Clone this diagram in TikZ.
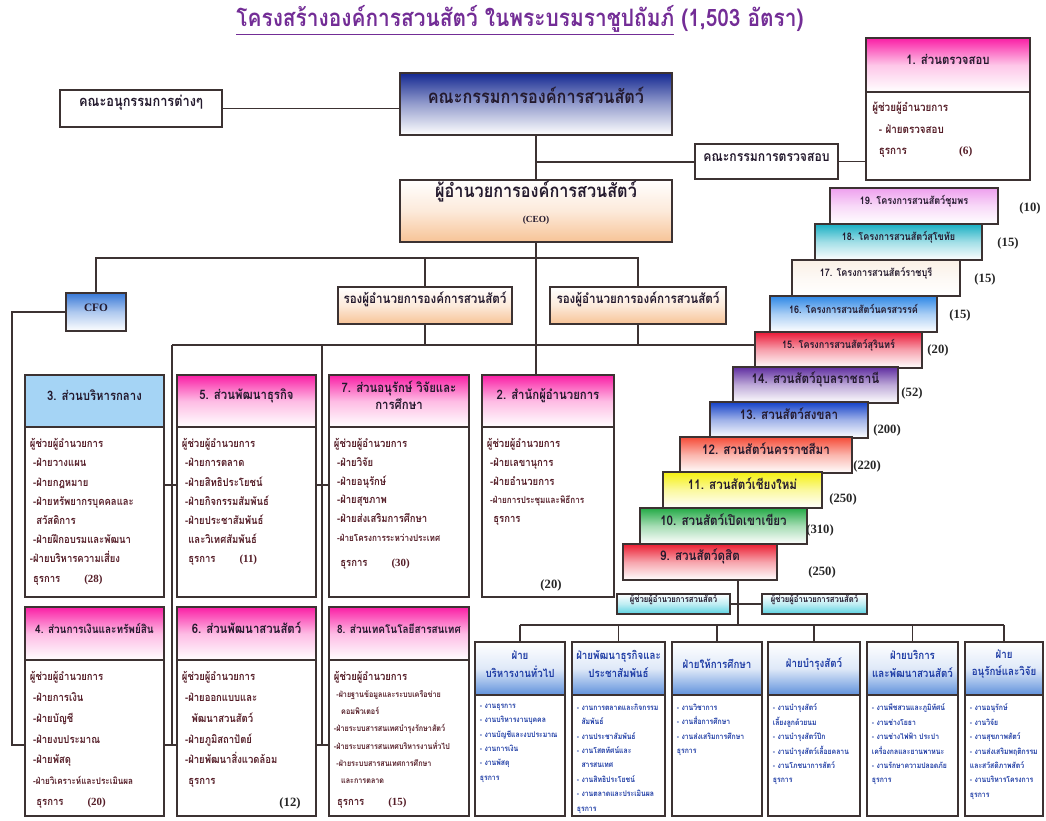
\documentclass[tikz,border=0pt]{standalone}
\usepackage{fontspec}
\setmainfont{Liberation Serif}
\newfontfamily\thaifont[Script=Thai, FakeStretch=0.87]{Loma}
\usepackage{tikz}
\usetikzlibrary{positioning,fit}

\definecolor{edge}{RGB}{60,50,50}
\definecolor{ink}{RGB}{35,25,45}
\definecolor{maroon}{RGB}{85,30,40}
\definecolor{pinkhd}{RGB}{250,30,165}
\definecolor{navyhd}{RGB}{20,40,145}
\definecolor{peach}{RGB}{247,195,150}
\definecolor{skyhd}{RGB}{165,212,245}
\definecolor{cfohd}{RGB}{55,120,215}
\definecolor{unithd}{RGB}{95,145,220}
\definecolor{unittext}{RGB}{30,60,165}
\definecolor{aqua}{RGB}{90,210,225}
\definecolor{titlepurple}{RGB}{115,45,150}
\definecolor{c19}{RGB}{238,160,238}
\definecolor{c18}{RGB}{25,175,195}
\definecolor{c17}{RGB}{250,240,230}
\definecolor{c16}{RGB}{45,135,230}
\definecolor{c15}{RGB}{235,25,55}
\definecolor{c14}{RGB}{95,45,160}
\definecolor{c13}{RGB}{20,65,200}
\definecolor{c12}{RGB}{245,75,55}
\definecolor{c11}{RGB}{245,240,15}
\definecolor{c10}{RGB}{35,170,70}
\definecolor{c9}{RGB}{235,30,50}

\begin{document}
\begin{tikzpicture}[x=0.75pt, y=-0.75pt,
	box/.style={draw=edge, line width=1pt, inner sep=0pt, align=center, text=ink, font=\thaifont\bfseries\fontsize{9.8}{13}\selectfont},
	plain/.style={box, fill=white},
	lines/.style={anchor=north west, align=left, inner sep=0pt, text=maroon},
	link/.style={draw=edge, line width=1pt},
	count/.style={font=\rmfamily\bfseries\fontsize{9.5}{11}\selectfont, text=black!85}]

\useasboundingbox (0,0) rectangle (1046,821);

% ---- title ----
\node[text=titlepurple, font=\thaifont\bfseries\fontsize{18}{21}\selectfont] (title) at (520,20) {\underline{โครงสร้างองค์การสวนสัตว์ ในพระบรมราชูปถัมภ์}\ (1,503 อัตรา)};

% ---- board, CEO, deputies ----
\node[plain, font=\thaifont\bfseries\fontsize{11}{13}\selectfont, fit={(60,90) (222,127)}] (subcom) {คณะอนุกรรมการต่างๆ};
\node[box, top color=navyhd, bottom color=white, middle color=navyhd!45, font=\thaifont\bfseries\fontsize{14}{17}\selectfont, fit={(400,73) (672,135)}] (board) {คณะกรรมการองค์การสวนสัตว์};
\node[plain, font=\thaifont\bfseries\fontsize{10.5}{12}\selectfont, fit={(695,144) (838,179)}] (auditcom) {คณะกรรมการตรวจสอบ};
\node[box, top color=white, bottom color=peach, middle color=peach!35, font=\thaifont\bfseries\fontsize{14}{17}\selectfont, fit={(400,180) (672,242)}] (ceo) {ผู้อำนวยการองค์การสวนสัตว์\\[2pt]{\rmfamily\fontsize{7}{8}\selectfont (CEO)}};
\node[box, top color=cfohd, bottom color=white, middle color=cfohd!40, font=\rmfamily\bfseries\fontsize{8.5}{10}\selectfont, fit={(66,293) (126,331)}] (cfo) {CFO};
\foreach \did/\xa/\xb in {1/338/512, 2/550/726}
	\node[box, top color=white, bottom color=peach, middle color=peach!35, font=\thaifont\bfseries\fontsize{10}{12}\selectfont, fit={(\xa,287) (\xb,324)}] (dep\did) {รองผู้อำนวยการองค์การสวนสัตว์};

% ---- 1. audit ----
\node[box, top color=pinkhd, bottom color=white, middle color=pinkhd!25, fit={(866,38) (1030,92)}] (dh1) {1. ส่วนตรวจสอบ};
\node[plain, fit={(866,92) (1030,180)}] (db1) {};
\node[lines, font=\thaifont\bfseries\fontsize{8.5}{16}\selectfont] (dt1) at ([xshift=5pt, yshift=-8pt]db1.north west) {ผู้ช่วยผู้อำนวยการ\\~~- ฝ่ายตรวจสอบ\\~~ธุรการ\hspace{4.6em}{\rmfamily (6)}};

% ---- divisions, upper row ----
\foreach \id/\xa/\xb/\tc/\bc/\hd/\bt/\ls in {
	3/25/164/skyhd/skyhd/{3. ส่วนบริหารกลาง}/{ผู้ช่วยผู้อำนวยการ\\~-ฝ่ายวางแผน\\~-ฝ่ายกฎหมาย\\~-ฝ่ายทรัพยากรบุคคลและ\\~~สวัสดิการ\\~-ฝ่ายฝึกอบรมและพัฒนา\\-ฝ่ายบริหารความเสี่ยง\\~ธุรการ\hspace{2.2em}{\rmfamily(28)}}/14.4,
	5/177/316/pinkhd/white/{5. ส่วนพัฒนาธุรกิจ}/{ผู้ช่วยผู้อำนวยการ\\~-ฝ่ายการตลาด\\~-ฝ่ายสิทธิประโยชน์\\~-ฝ่ายกิจกรรมสัมพันธ์\\~-ฝ่ายประชาสัมพันธ์\\~~และวิเทศสัมพันธ์\\~~ธุรการ\hspace{2.2em}{\rmfamily(11)}}/14.4,
	7/329/469/pinkhd/white/{7. ส่วนอนุรักษ์ วิจัยและ\\การศึกษา}/{ผู้ช่วยผู้อำนวยการ\\~-ฝ่ายวิจัย\\~-ฝ่ายอนุรักษ์\\~-ฝ่ายสุขภาพ\\~-ฝ่ายส่งเสริมการศึกษา\\~{\scriptsize -ฝ่ายโครงการระหว่างประเทศ}\\[5pt]~~ธุรการ\hspace{2.2em}{\rmfamily(30)}}/14,
	2/482/614/pinkhd/white/{2. สำนักผู้อำนวยการ}/{ผู้ช่วยผู้อำนวยการ\\~-ฝ่ายเลขานุการ\\~-ฝ่ายอำนวยการ\\~{\scriptsize -ฝ่ายการประชุมและพิธีการ}\\~~ธุรการ}/14}
{
	\node[box, top color=\tc, bottom color=\bc, middle color=\tc!30!\bc, fit={(\xa,375) (\xb,427)}] (dh\id) {\hd};
	\node[plain, fit={(\xa,427) (\xb,597)}] (db\id) {};
	\node[lines, font=\thaifont\bfseries\fontsize{8.2}{\ls}\selectfont] (dt\id) at ([xshift=4pt, yshift=-9pt]db\id.north west) {\bt};
}

% ---- divisions, lower row ----
\foreach \id/\xa/\xb/\hs/\hd/\bt/\ls in {
	4/25/164/8.6/{4. ส่วนการเงินและทรัพย์สิน}/{ผู้ช่วยผู้อำนวยการ\\~-ฝ่ายการเงิน\\~-ฝ่ายบัญชี\\~-ฝ่ายงบประมาณ\\~-ฝ่ายพัสดุ\\~{\scriptsize -ฝ่ายวิเคราะห์และประเมินผล}\\~~ธุรการ\hspace{2.2em}{\rmfamily(20)}}/15.6,
	6/177/316/9.8/{6. ส่วนพัฒนาสวนสัตว์}/{ผู้ช่วยผู้อำนวยการ\\~-ฝ่ายออกแบบและ\\~~~พัฒนาสวนสัตว์\\~-ฝ่ายภูมิสถาปัตย์\\~-ฝ่ายพัฒนาสิ่งแวดล้อม\\~~ธุรการ}/15.6,
	8/329/469/8.6/{8. ส่วนเทคโนโลยีสารสนเทศ}/{ผู้ช่วยผู้อำนวยการ\\{\fontsize{6.2}{7}\selectfont ~-ฝ่ายฐานข้อมูลและระบบเครือข่าย}\\{\fontsize{6.2}{7}\selectfont ~~~คอมพิวเตอร์}\\{\fontsize{6.2}{7}\selectfont -ฝ่ายระบบสารสนเทศบำรุงรักษาสัตว์}\\{\fontsize{6.2}{7}\selectfont -ฝ่ายระบบสารสนเทศบริหารงานทั่วไป}\\{\fontsize{6.2}{7}\selectfont ~-ฝ่ายระบบสารสนเทศการศึกษา}\\{\fontsize{6.2}{7}\selectfont ~~~และการตลาด}\\[4pt]~ธุรการ\hspace{2.2em}{\rmfamily(15)}}/12.8}
{
	\node[box, top color=pinkhd, bottom color=white, middle color=pinkhd!30, font=\thaifont\bfseries\fontsize{\hs}{13}\selectfont, fit={(\xa,607) (\xb,660)}] (dh\id) {\hd};
	\node[plain, fit={(\xa,660) (\xb,816)}] (db\id) {};
	\node[lines, font=\thaifont\bfseries\fontsize{8.2}{\ls}\selectfont] (dt\id) at ([xshift=4pt, yshift=-9pt]db\id.north west) {\bt};
}
\node[count] (c2) at (551,585) {(20)};
\node[count] (c6) at (290,803) {(12)};

% ---- projects and zoos ----
\foreach \pid/\xa/\xb/\ya/\col/\txt/\cnt/\cx/\cy in {
	19/830/998/188/c19/{โครงการสวนสัตว์ชุมพร}/10/1030/208,
	18/815/982/224/c18/{โครงการสวนสัตว์สุโขทัย}/15/1008/243,
	17/792/960/260/c17/{โครงการสวนสัตว์ราชบุรี}/15/985/279,
	16/770/937/296/c16/{โครงการสวนสัตว์นครสวรรค์}/15/960/315,
	15/755/922/332/c15/{โครงการสวนสัตว์สุรินทร์}/20/938/350}
{
	\node[box, top color=\col, bottom color=white, middle color=\col!40, font=\thaifont\bfseries\fontsize{7.8}{9}\selectfont, fit={(\xa,\ya) (\xb,\ya+36)}] (p\pid) {\pid. \txt};
	\node[count] (k\pid) at (\cx,\cy) {(\cnt)};
}
\foreach \pid/\xa/\xb/\ya/\col/\txt/\cnt/\cx/\cy in {
	14/733/898/367/c14/{สวนสัตว์อุบลราชธานี}/52/912/393,
	13/710/868/402/c13/{สวนสัตว์สงขลา}/200/887/430,
	12/680/852/437/c12/{สวนสัตว์นครราชสีมา}/220/867/466,
	11/663/822/472/c11/{สวนสัตว์เชียงใหม่}/250/843/499,
	10/640/807/508/c10/{สวนสัตว์เปิดเขาเขียว}/310/820/530,
	9/623/777/544/c9/{สวนสัตว์ดุสิต}/250/822/572}
{
	\node[box, top color=\col, bottom color=white, middle color=\col!40, font=\thaifont\bfseries\fontsize{10}{12}\selectfont, fit={(\xa,\ya) (\xb,\ya+36)}] (p\pid) {\pid. \txt};
	\node[count] (k\pid) at (\cx,\cy) {(\cnt)};
}

% ---- assistants and units ----
\node[box, top color=white, bottom color=aqua, middle color=aqua!40, font=\thaifont\bfseries\fontsize{6.6}{8}\selectfont, fit={(617,594) (730,614)}] (as1) {ผู้ช่วยผู้อำนวยการสวนสัตว์};
\node[box, top color=white, bottom color=aqua, middle color=aqua!40, font=\thaifont\bfseries\fontsize{6.6}{8}\selectfont, fit={(762,594) (867,614)}] (as2) {ผู้ช่วยผู้อำนวยการสวนสัตว์};
\foreach \id/\xa/\xb/\hd/\bt in {
	1/475/565/{ฝ่าย\\บริหารงานทั่วไป}/{- งานธุรการ\\- งานบริหารงานบุคคล\\- งานบัญชีและงบประมาณ\\- งานการเงิน\\- งานพัสดุ\\ธุรการ},
	2/572/665/{ฝ่ายพัฒนาธุรกิจและ\\ประชาสัมพันธ์}/{- งานการตลาดและกิจกรรม\\~~สัมพันธ์\\- งานประชาสัมพันธ์\\- งานโสตทัศน์และ\\~~สารสนเทศ\\- งานสิทธิประโยชน์\\- งานตลาดและประเมินผล\\ธุรการ},
	3/672/762/{ฝ่ายให้การศึกษา}/{- งานวิชาการ\\- งานสื่อการศึกษา\\- งานส่งเสริมการศึกษา\\ธุรการ},
	4/768/860/{ฝ่ายบำรุงสัตว์}/{- งานบำรุงสัตว์\\เลี้ยงลูกด้วยนม\\- งานบำรุงสัตว์ปีก\\- งานบำรุงสัตว์เลื้อยคลาน\\- งานโภชนาการสัตว์\\ธุรการ},
	5/867/958/{ฝ่ายบริการ\\และพัฒนาสวนสัตว์}/{- งานพืชสวนและภูมิทัศน์\\- งานช่างโยธา\\- งานช่างไฟฟ้า ประปา\\เครื่องกลและยานพาหนะ\\- งานรักษาความปลอดภัย\\ธุรการ},
	6/965/1043/{ฝ่าย\\อนุรักษ์และวิจัย}/{- งานอนุรักษ์\\- งานวิจัย\\- งานสุขภาพสัตว์\\- งานส่งเสริมพฤติกรรม\\และสวัสดิภาพสัตว์\\- งานบริหารโครงการ\\ธุรการ}}
{
	\node[box, top color=white, bottom color=unithd, middle color=unithd!20, text=unittext, font=\thaifont\bfseries\fontsize{8.4}{13}\selectfont, fit={(\xa,642) (\xb,695)}] (uh\id) {\hd};
	\node[plain, fit={(\xa,695) (\xb,816)}] (ub\id) {};
	\node[lines, text=unittext, font=\thaifont\bfseries\fontsize{5.9}{10.8}\selectfont] (ut\id) at ([xshift=4pt, yshift=-7pt]ub\id.north west) {\bt};
}

% ---- connectors ----
\coordinate (tap) at (536,162);
\coordinate (fork) at (536,258);
\coordinate (bus) at (172,345);
\coordinate (cbus) at (322,345);
\coordinate (rowA) at (0,485);
\coordinate (rowB) at (0,745);
\coordinate (rail) at (12,745);
\coordinate (aj) at (738,604);
\coordinate (fan) at (738,625);

\draw[link] (subcom.east) -- (subcom.east -| board.west);
\draw[link] (board.south) -- (ceo.north);
\draw[link] (tap) -- (tap -| auditcom.west);
\draw[link] (auditcom.east) -- (auditcom.east -| db1.west);
\draw[link] (cfo.north) |- (fork) -| (dep2.north);
\draw[link] (fork -| dep1.north) -- (dep1.north);
\draw[link] (ceo.south) -- (ceo.south |- dh2.north);
\draw[link] (dep1.south) -- (dep1.south |- bus);
\draw[link] (dep2.south) -- (dep2.south |- bus);
\draw[link] (bus) -- (bus -| p15.west);
\draw[link] (bus) -- (bus |- rowB);
\draw[link] (cbus) -- (cbus |- rowB);
\draw[link] (db3.east |- rowA) -- (db5.west |- rowA);
\draw[link] (db5.east |- rowA) -- (db7.west |- rowA);
\draw[link] (db4.east |- rowB) -- (db6.west |- rowB);
\draw[link] (db6.east |- rowB) -- (db8.west |- rowB);
\draw[link] (cfo.west) -| (rail) -- (rail -| db4.west);
\draw[link] (p9.south -| aj) -- (fan);
\draw[link] (as1.east |- aj) -- (as2.west |- aj);
\draw[link] (fan -| uh1.north) -- (fan -| uh6.north);
\foreach \uid in {1,...,6}
	\draw[link] (fan -| uh\uid.north) -- (uh\uid.north);
\end{tikzpicture}
\end{document}
